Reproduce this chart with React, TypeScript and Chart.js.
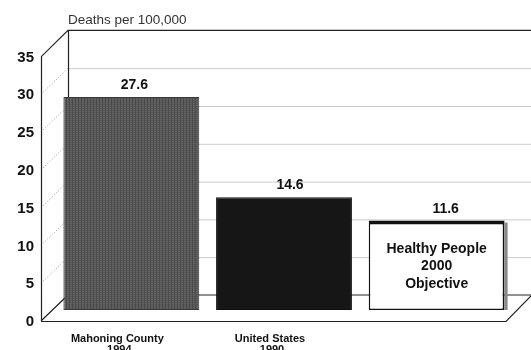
import React, { useEffect, useRef } from "react";
import { Chart, registerables } from "chart.js";

Chart.register(...registerables);

const categories = ["Mahoning County", "United States", "Healthy People 2000 Objective"];
const categorySubLabels = ["1994", "1990", ""];
const values = [27.6, 14.6, 11.6];
const valueLabels = ["27.6", "14.6", "11.6"];
const tickValues = [0, 5, 10, 15, 20, 25, 30, 35];
const axisTitle = "Deaths per 100,000";
const insideLines = ["Healthy People", "2000", "Objective"];

const FONT = "'Liberation Sans', Arial, Helvetica, sans-serif";

function makePattern(): CanvasPattern | string {
  const c = document.createElement("canvas");
  c.width = 3;
  c.height = 2;
  const g = c.getContext("2d");
  if (!g) return "#5a5a5a";
  g.fillStyle = "#626262";
  g.fillRect(0, 0, 3, 2);
  g.fillStyle = "#4a4a4a";
  g.fillRect(0, 0, 1, 2);
  g.fillStyle = "#575757";
  g.fillRect(1, 0, 2, 1);
  const p = g.createPattern(c, "repeat");
  return p || "#5a5a5a";
}

const frame3d = {
  id: "frame3d",
  beforeDatasetsDraw(chart: any) {
    const { ctx, chartArea, scales } = chart;
    const y = scales.y;
    const base = y.getPixelForValue(0);
    const k = 0.98;
    const yF = (v: number) => base + 11 - (base - y.getPixelForValue(v)) * k;
    const yB = (v: number) => base - 15 - (base - y.getPixelForValue(v)) * k;
    const xF = chartArea.left - 14;
    const xB = chartArea.left + 13;
    const xFR = chartArea.right - 7;
    const W = chart.width;
    const top = tickValues[tickValues.length - 1];

    ctx.save();
    // back wall gridlines
    ctx.strokeStyle = "#cccccc";
    ctx.lineWidth = 1;
    tickValues.forEach((v) => {
      if (v === 0 || v === top) return;
      ctx.beginPath();
      ctx.moveTo(xB, yB(v) + 0.5);
      ctx.lineTo(W, yB(v) + 0.5);
      ctx.stroke();
    });
    // side wall dotted diagonals
    ctx.setLineDash([1, 2]);
    ctx.strokeStyle = "#9a9a9a";
    tickValues.forEach((v) => {
      if (v === 0 || v === top) return;
      ctx.beginPath();
      ctx.moveTo(xF, yF(v));
      ctx.lineTo(xB, yB(v));
      ctx.stroke();
    });
    ctx.setLineDash([]);
    // frame lines
    ctx.strokeStyle = "#222";
    ctx.lineWidth = 1.2;
    ctx.beginPath();
    ctx.moveTo(xF + 0.5, yF(0));
    ctx.lineTo(xF + 0.5, yF(top));
    ctx.lineTo(xB, yB(top));
    ctx.lineTo(W, yB(top));
    ctx.moveTo(xB + 0.5, yB(top));
    ctx.lineTo(xB + 0.5, yB(0));
    ctx.lineTo(W, yB(0));
    ctx.moveTo(xF, yF(0));
    ctx.lineTo(xB, yB(0));
    ctx.moveTo(xF, yF(0) + 0.5);
    ctx.lineTo(xFR, yF(0) + 0.5);
    ctx.lineTo(W, yB(0) + 1);
    ctx.stroke();

    // tick labels
    ctx.fillStyle = "#111";
    ctx.font = `bold 15px ${FONT}`;
    ctx.textAlign = "right";
    ctx.textBaseline = "middle";
    tickValues.forEach((v) => {
      ctx.fillText(String(v), xF - 7, yF(v) + 1);
    });

    // axis title
    ctx.fillStyle = "#333";
    ctx.font = `13.5px ${FONT}`;
    ctx.textAlign = "left";
    ctx.textBaseline = "alphabetic";
    ctx.fillText(axisTitle, xB, yB(top) - 6);
    ctx.restore();
  },
  afterDatasetsDraw(chart: any) {
    const { ctx } = chart;
    const meta = chart.getDatasetMeta(0);
    const base = chart.scales.y.getPixelForValue(0);
    ctx.save();
    meta.data.forEach((bar: any, i: number) => {
      const half = bar.width / 2;
      if (i === 2) {
        ctx.fillStyle = "#8a8a8a";
        ctx.fillRect(bar.x + half, bar.y + 2, 3, base - bar.y - 2);
      }
      ctx.fillStyle = "#111";
      ctx.font = `bold 14px ${FONT}`;
      ctx.textAlign = "center";
      ctx.textBaseline = "alphabetic";
      ctx.fillText(valueLabels[i], bar.x + 3 + i * 3, bar.y - 8);
      if (categorySubLabels[i]) {
        ctx.font = `bold 11px ${FONT}`;
        ctx.fillText(categories[i], bar.x - 14, base + 32);
        ctx.fillText(categorySubLabels[i], bar.x - 12, base + 43);
      }
    });
    const hp = meta.data[2];
    ctx.font = `bold 14px ${FONT}`;
    ctx.fillStyle = "#111";
    ctx.textAlign = "center";
    insideLines.forEach((t, j) => {
      ctx.fillText(t, hp.x, hp.y + 32 + j * 17.5);
    });
    ctx.restore();
  },
};

export default function App() {
  const ref = useRef<HTMLCanvasElement | null>(null);
  useEffect(() => {
    if (!ref.current) return;
    const pattern = makePattern();
    const chart = new Chart(ref.current, {
      type: "bar",
      data: {
        labels: categories,
        datasets: [
          {
            data: values,
            backgroundColor: [pattern as any, "#161616", "#ffffff"],
            borderColor: ["#3a3a3a", "#101010", "#111111"],
            borderWidth: [
              { top: 1, left: 1, right: 1, bottom: 1 },
              { top: 1, left: 1, right: 1, bottom: 1 },
              { top: 4, left: 1.5, right: 2, bottom: 1.5 },
            ] as any,
            borderSkipped: false,
            barPercentage: 0.89,
            categoryPercentage: 1,
          },
        ],
      },
      options: {
        responsive: false,
        animation: false,
        layout: { padding: { left: 55, right: 18, top: 40, bottom: 40 } },
        plugins: {
          legend: { display: false },
          tooltip: { enabled: false },
          title: { display: false },
        },
        scales: {
          x: { display: false },
          y: { display: false, min: 0, max: 35 },
        },
      },
      plugins: [frame3d],
    });
    return () => chart.destroy();
  }, []);
  return (
    <div style={{ position: "fixed", left: 0, top: 0, width: 531, height: 350, background: "#fff" }}>
      <canvas ref={ref} width={531} height={350} style={{ width: 531, height: 350 }} />
    </div>
  );
}
